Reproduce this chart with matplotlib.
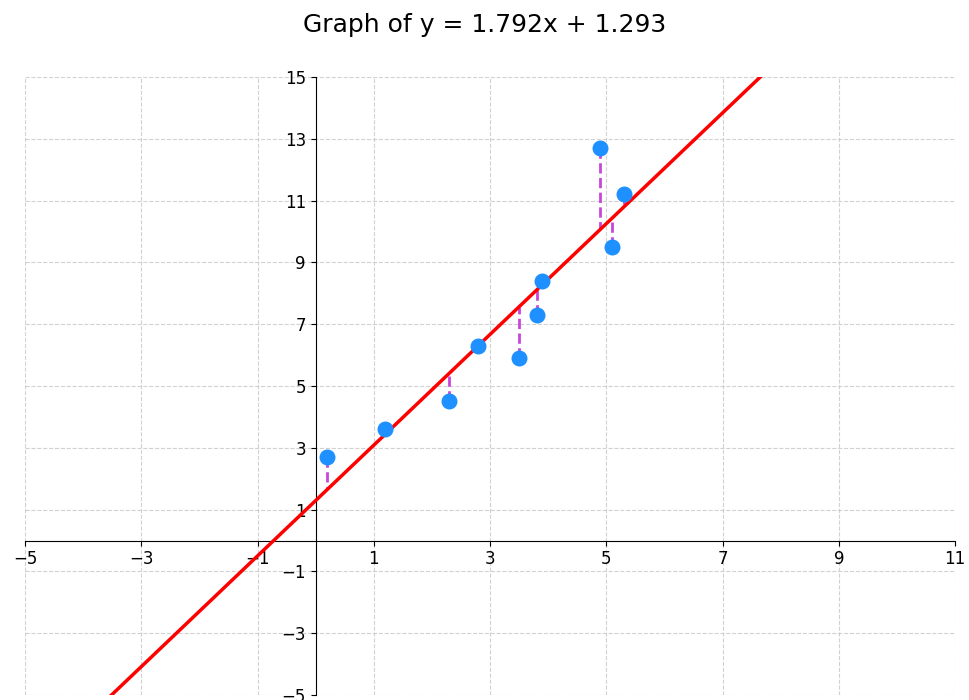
import matplotlib.pyplot as plt
import numpy as np

# sample points and fitted line
x_vals = [0.2, 1.2, 2.3, 2.8, 3.5, 3.8, 3.9, 4.9, 5.1, 5.3]
y_vals = [2.7, 3.6, 4.5, 6.3, 5.9, 7.3, 8.4, 12.7, 9.5, 11.2]
slope = 1.792
intercept = 1.293

x_ticks = [-5, -3, -1, 1, 3, 5, 7, 9, 11]
y_ticks = [-5, -3, -1, 1, 3, 5, 7, 9, 11, 13, 15]

x = np.array(x_vals)
y = np.array(y_vals)

fig = plt.figure(figsize=(9.69, 7), dpi=100)
ax = fig.add_axes([0.0258, 0.0071, 0.9598, 0.8829])

ax.set_xlim(-5, 11)
ax.set_ylim(-5, 15)

# put the axes through the origin
ax.spines['left'].set_position('zero')
ax.spines['bottom'].set_position('zero')
ax.spines['right'].set_visible(False)
ax.spines['top'].set_visible(False)

ax.set_xticks(x_ticks)
ax.set_yticks(y_ticks)
ax.tick_params(labelsize=12)
ax.grid(True, linestyle='--', color='#cccccc', alpha=0.9)

# regression line over the whole x range
xl = np.array([-5, 11])
ax.plot(xl, slope * xl + intercept, color='red', linewidth=2.5, zorder=3)

# residuals
y_fit = slope * x + intercept
for xi, yi, yf in zip(x, y, y_fit):
    ax.plot([xi, xi], [yi, yf], color='#c846d8', linestyle='--', linewidth=2, zorder=2)

ax.scatter(x, y, s=110, color='#1e90ff', zorder=4)

fig.suptitle(f"Graph of y = {slope}x + {intercept}", fontsize=18, y=0.982)

fig.savefig('out.png')
